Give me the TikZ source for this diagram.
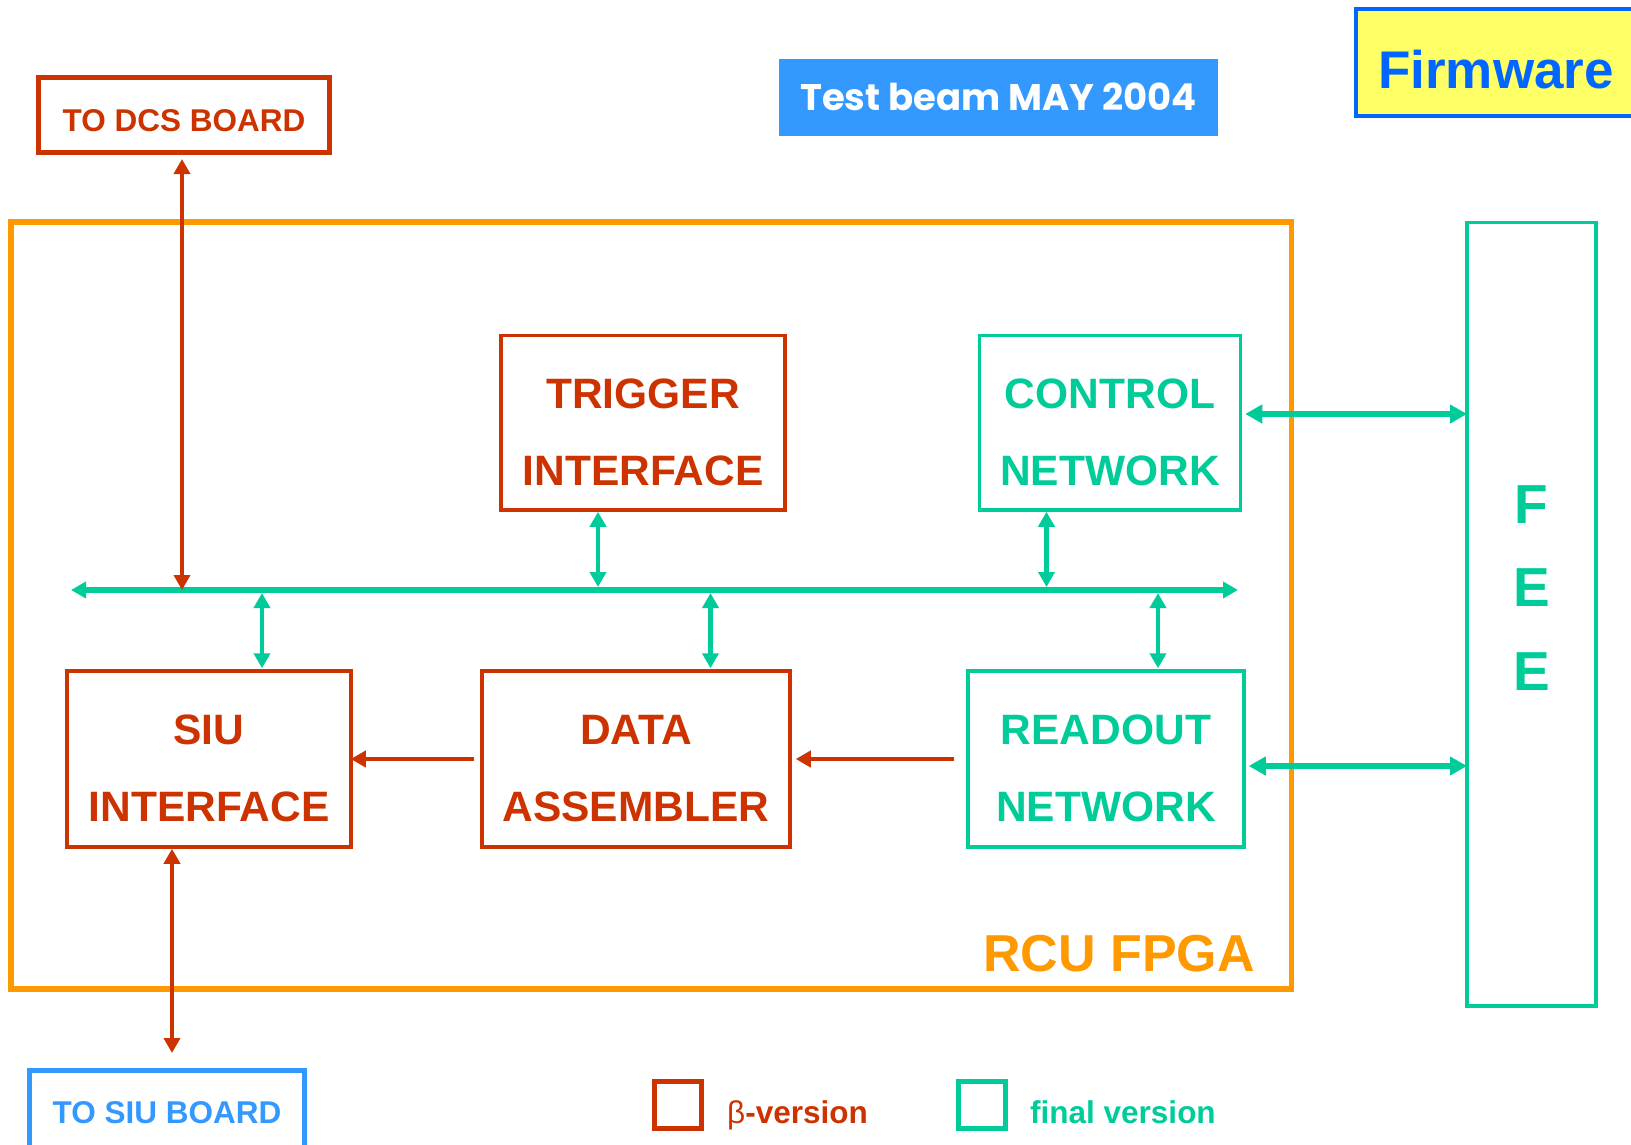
\documentclass[tikz,border=0pt]{standalone}
\usepackage{fontspec}
\setmainfont{Liberation Sans}
\newfontfamily\beamfont{Poppins}
\usetikzlibrary{arrows.meta, positioning, calc}

\definecolor{rcured}{HTML}{CC3300}
\definecolor{rcugreen}{HTML}{00CC99}
\definecolor{rcuorange}{HTML}{FF9900}
\definecolor{rcublue}{HTML}{3399FF}
\definecolor{fwblue}{HTML}{0066FF}
\definecolor{fwyellow}{HTML}{FFFF66}

\newcommand{\blockfont}{\fontsize{42.5}{77}\selectfont\bfseries}
\newcommand{\boardfont}{\fontsize{31.5}{36}\selectfont\bfseries}

\tikzset{
  blockbox/.style={draw, line width=3.5pt, inner sep=0pt, align=center,
    font=\blockfont, text height=125pt, text depth=0pt},
  betabox/.style={blockbox, draw=rcured, text=rcured},
  finalbox/.style={blockbox, draw=rcugreen, text=rcugreen},
  boardbox/.style={draw, line width=5pt, inner sep=0pt, font=\boardfont,
    text height=23pt, text depth=0pt},
  legbox/.style={draw, line width=5pt, minimum size=47pt, inner sep=0pt},
  legtext/.style={font=\boardfont, inner sep=0pt},
  busline/.style={rcugreen, line width=5.5pt, <->},
  taplink/.style={rcugreen, line width=4.5pt, <->},
  redlink/.style={rcured, line width=4pt},
  feelink/.style={rcugreen, line width=6pt, <->,
    >={Triangle[length=17pt, width=18pt]}},
}

\begin{document}
\begin{tikzpicture}[x=1pt, y=-1pt, >={Triangle[length=15pt, width=16pt]}]
    \useasboundingbox (0,0) rectangle (1631,1144);
    \clip (0,0) rectangle (1631,1144);

    % --- headers ---
    \node[fill=rcublue, minimum width=439pt, minimum height=77pt, inner sep=0pt,
        text=white, font=\beamfont\bfseries\fontsize{37}{42}\selectfont,
        text height=26pt, text depth=0pt] (beam) at (998.5,97)
        {Test beam MAY 2004};
    \node[draw=fwblue, fill=fwyellow, line width=4pt, minimum width=280pt,
        minimum height=106.5pt, inner sep=0pt, text=fwblue,
        font=\fontsize{53}{60}\selectfont\bfseries, text height=53pt, text depth=0pt]
        (fw) at (1496,62.25) {Firmware};

    % --- external boards ---
    \node[boardbox, draw=rcured, text=rcured, minimum width=291pt, minimum height=75pt,
        text height=32pt] (dcs) at (184,115) {TO DCS BOARD};
    \node[boardbox, draw=rcublue, text=rcublue, minimum width=275pt, minimum height=82pt]
        (sboard) at (167,1111.5) {TO SIU BOARD};

    % --- FPGA frame and front-end ---
    \node[draw=rcuorange, line width=5.5pt, minimum width=1280.5pt, minimum height=767pt]
        (rcu) at (651.25,605.5) {};
    \node[anchor=base east, inner sep=0pt, text=rcuorange,
        font=\fontsize{52}{60}\selectfont\bfseries] (rcutxt) at (1255,971) {RCU FPGA};
    \node[draw=rcugreen, line width=3.5pt, minimum width=129pt, minimum height=783.5pt,
        inner sep=0pt, align=center, text=rcugreen,
        font=\fontsize{55}{83.5}\selectfont\bfseries, text height=151.5pt, text depth=0pt]
        (fee) at (1531.5,614.25) {F\\E\\E};

    % --- blocks ---
    \node[betabox, minimum width=284pt, minimum height=174.5pt] (trig) at (643,422.75)
        {TRIGGER\\INTERFACE};
    \node[finalbox, minimum width=261pt, minimum height=174.5pt] (ctrl) at (1110,422.75)
        {CONTROL\\NETWORK};
    \node[betabox, minimum width=284pt, minimum height=176pt] (siu) at (209,759)
        {SIU\\INTERFACE};
    \node[betabox, minimum width=308pt, minimum height=176pt] (data) at (636,759)
        {DATA\\ASSEMBLER};
    \node[finalbox, minimum width=276pt, minimum height=176pt] (read) at (1106,759)
        {READOUT\\NETWORK};

    % --- internal bus ---
    \coordinate (busw) at (71,590);
    \coordinate (buse) at (1238,590);
    \draw[busline] (busw) -- (buse);

    \coordinate (tapdcs) at (182,590);
    \coordinate (tapsiu) at (262,590);
    \coordinate (taptrig) at (598,590);
    \coordinate (tapdata) at (710.5,590);
    \coordinate (tapctrl) at (1046.5,590);
    \coordinate (tapread) at (1158,590);

    \draw[redlink, <->, shorten <=4pt] (tapdcs |- dcs.south) -- (tapdcs);
    \draw[taplink, shorten <=3pt, shorten >=1pt] (tapsiu) -- (tapsiu |- siu.north);
    \draw[taplink, shorten >=3pt] (taptrig |- trig.south) -- (taptrig);
    \draw[taplink, shorten <=3pt, shorten >=1pt] (tapdata) -- (tapdata |- data.north);
    \draw[taplink, shorten >=3pt] (tapctrl |- ctrl.south) -- (tapctrl);
    \draw[taplink, shorten <=3pt, shorten >=1pt] (tapread) -- (tapread |- read.north);

    % --- data path ---
    \draw[redlink, ->, shorten <=6pt, shorten >=-2pt] (data.west) -- (siu.east);
    \draw[redlink, ->, shorten <=12pt, shorten >=4pt] (read.west) -- (data.east);

    \coordinate (siuout) at (172,0);
    \draw[redlink, <->, shorten >=15pt] (siuout |- siu.south) -- (siuout |- sboard.north);

    % --- links to FEE ---
    \coordinate (feectrl) at (1467,414);
    \coordinate (feeread) at (1467,766);
    \draw[feelink, shorten <=3pt] (feectrl -| ctrl.east) -- (feectrl);
    \draw[feelink, shorten <=3pt] (feeread -| read.east) -- (feeread);

    % --- legend ---
    \node[legbox, draw=rcured] (lgbeta) at (678,1105) {};
    \node[legtext, text=rcured, anchor=base west] (lgbetatxt) at (727,1123)
        {{\mdseries β}-version};
    \node[legbox, draw=rcugreen] (lgfinal) at (981.5,1105) {};
    \node[legtext, text=rcugreen, anchor=base west] (lgfinaltxt) at (1030,1123)
        {final version};
\end{tikzpicture}
\end{document}
